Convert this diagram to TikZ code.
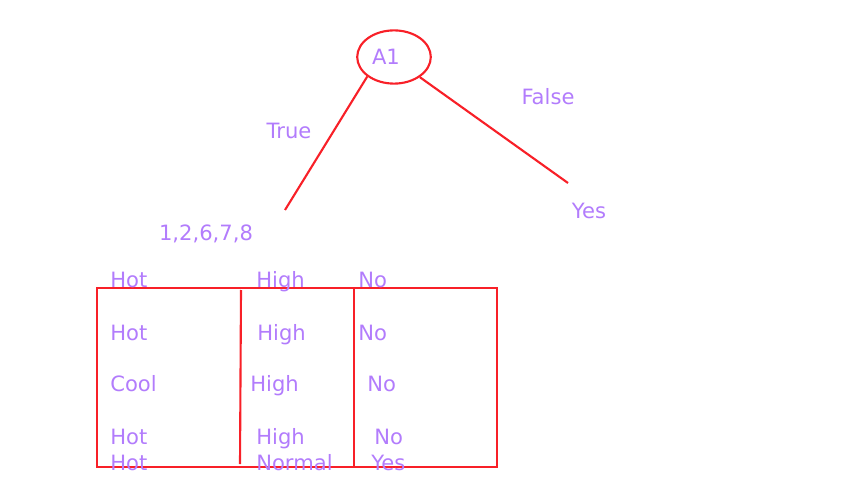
\documentclass[tikz,border=0pt]{standalone}
\usepackage{fontspec}
\setmainfont{DejaVu Sans}
\usepackage{xcolor}
\usetikzlibrary{shapes.geometric}
\definecolor{treered}{RGB}{248,32,40}
\definecolor{lavender}{RGB}{178,124,252}

\begin{document}
\begin{tikzpicture}[x=0.025cm, y=-0.025cm, font=\fontsize{15}{18}\selectfont,
  redline/.style={treered, line width=1.5pt},
  lbl/.style={text=lavender, inner sep=0pt, anchor=base},
  cell/.style={text=lavender, inner sep=0pt, anchor=base west}]
  \useasboundingbox (0,0) rectangle (845,484);
  % Root of the tree
  \node[ellipse, draw=treered, line width=1.5pt, inner sep=0pt,
    minimum width=1.84cm, minimum height=1.33cm, text=lavender]
    (root) at (394,57) {A1\kern11.4pt};
  % Branch ends
  \coordinate (trueend) at (285,210);
  \coordinate (falseend) at (568,183);
  \draw[redline] (root.south west) -- (trueend);
  \draw[redline] (root.-38) -- (falseend);
  % Branch labels
  \node[lbl] (truelbl) at (289,139) {True};
  \node[lbl] (falselbl) at (548,105) {False};
  \node[lbl] (yeslbl) at (589,219) {Yes};
  \node[lbl] (rows) at (206,241) {1,2,6,7,8};
  % Table frame
  \draw[redline] (97,288) rectangle (497,467);
  \draw[redline] (241,290) -- (240,464);
  \draw[redline] (354,287) -- (354,466);
  % Temperature column
  \node[cell] (t1) at (110,287) {Hot};
  \node[cell] (t2) at (110,340) {Hot};
  \node[cell] (t3) at (110,391) {Cool};
  \node[cell] (t4) at (110,444) {Hot};
  \node[cell] (t5) at (110,470) {Hot};
  % Humidity column
  \node[cell] (h1) at (256,287) {High};
  \node[cell] (h2) at (257,340) {High};
  \node[cell] (h3) at (250,391) {High};
  \node[cell] (h4) at (256,444) {High};
  \node[cell] (h5) at (256,470) {Normal};
  % Play column
  \node[cell] (p1) at (358,287) {No};
  \node[cell] (p2) at (358,340) {No};
  \node[cell] (p3) at (367,391) {No};
  \node[cell] (p4) at (374,444) {No};
  \node[cell] (p5) at (371,470) {Yes};
\end{tikzpicture}
\end{document}
